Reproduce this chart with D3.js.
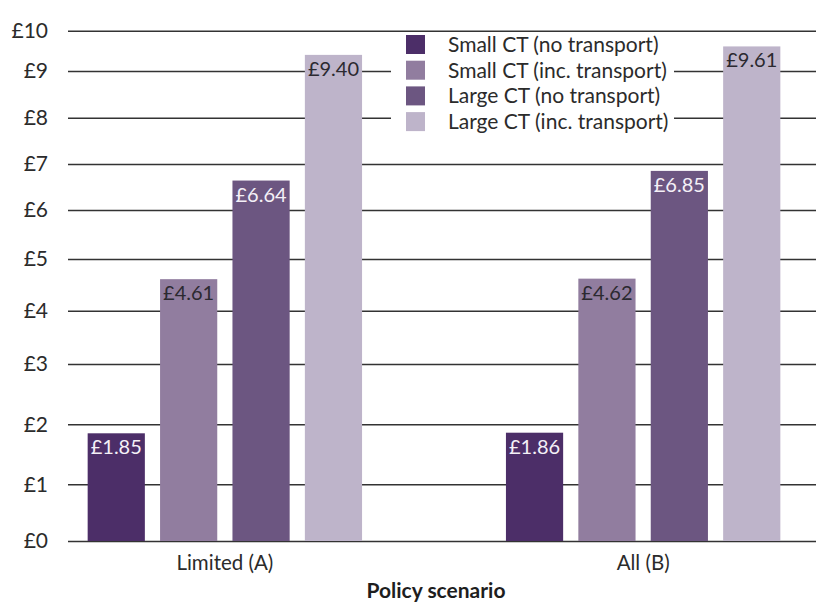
<!DOCTYPE html>
<html>
<head>
<meta charset="utf-8">
<script src="https://cdn.jsdelivr.net/npm/d3@7"></script>
<style>
  html, body { margin: 0; padding: 0; background: #fff; }
  svg { display: block; font-family: Lato, "Open Sans", sans-serif; }
</style>
</head>
<body>
<div id="chart"></div>
<script>
// ---- data ----
const categories = ["Limited (A)", "All (B)"];
const seriesNames = [
  "Small CT (no transport)",
  "Small CT (inc. transport)",
  "Large CT (no transport)",
  "Large CT (inc. transport)"
];
const smallNoTransport = [1.85, 1.86];
const smallIncTransport = [4.61, 4.62];
const largeNoTransport = [6.64, 6.85];
const largeIncTransport = [9.40, 9.61];
const yTickValues = [0, 1, 2, 3, 4, 5, 6, 7, 8, 9, 10];
const xAxisTitle = "Policy scenario";

const seriesValues = [smallNoTransport, smallIncTransport, largeNoTransport, largeIncTransport];
const colors = ["#4c2e68", "#917d9f", "#6c5681", "#beb4ca"];
const labelColors = ["#f4f0f7", "#2b2930", "#f4f0f7", "#2b2930"];

const W = 816, H = 602;
const svg = d3.select("#chart").append("svg").attr("width", W).attr("height", H);

// gridlines in the reference are unevenly spaced; polylinear scale reproduces them
const y = d3.scaleLinear()
  .domain(yTickValues)
  .range([541, 484.3, 424.3, 364, 310.7, 259, 210, 164, 117.7, 71, 30.7]);

const gridLeft = 68, gridRight = 816;
const x0 = d3.scaleBand().domain(categories).range([68, 800]).paddingInner(0.344).paddingOuter(0.047);
const x1 = d3.scaleBand().domain(seriesNames).range([0, x0.bandwidth()]).paddingInner(0.21).paddingOuter(0);

// y axis: gridlines + labels
const yAxis = d3.axisLeft(y).tickValues(yTickValues).tickSize(-(gridRight - gridLeft)).tickPadding(20)
  .tickFormat(d => "£" + d);
const gy = svg.append("g").attr("transform", `translate(${gridLeft},0)`).call(yAxis);
gy.select(".domain").remove();
gy.selectAll(".tick line").attr("stroke", "#333").attr("stroke-width", 1.4);
gy.selectAll(".tick text").attr("fill", "#2b2b2b").style("font-size", "21px")
  .style("font-family", "Lato, 'Open Sans', sans-serif");

// legend background (covers gridlines)
const legend = svg.append("g");
legend.append("rect").attr("x", 391).attr("y", 33).attr("width", 283).attr("height", 97).attr("fill", "#fff");
seriesNames.forEach((name, i) => {
  const ly = 35 + i * 25.7;
  legend.append("rect").attr("x", 406).attr("y", ly).attr("width", 19).attr("height", 19).attr("fill", colors[i]);
  legend.append("text").attr("x", 448).attr("y", ly + 17).text(name)
    .attr("fill", "#2b2b2b").style("font-size", "21px");
});

// bars
const groups = svg.append("g").selectAll("g").data(categories).join("g")
  .attr("transform", d => `translate(${x0(d)},0)`);

groups.each(function(cat, ci) {
  const g = d3.select(this);
  seriesNames.forEach((s, si) => {
    const v = seriesValues[si][ci];
    g.append("rect")
      .attr("x", x1(s)).attr("width", x1.bandwidth())
      .attr("y", y(v)).attr("height", y(0) - y(v))
      .attr("fill", colors[si]);
    g.append("text")
      .attr("x", x1(s) + x1.bandwidth() / 2).attr("y", y(v) + 21)
      .attr("text-anchor", "middle")
      .attr("fill", labelColors[si]).style("font-size", "20px")
      .text("£" + v.toFixed(2));
  });
});

// x axis labels
const xAxis = d3.axisBottom(x0).tickSize(0).tickPadding(14);
const gx = svg.append("g").attr("transform", `translate(0,${y(0)})`).call(xAxis);
gx.select(".domain").remove();
gx.selectAll(".tick text").attr("fill", "#2b2b2b").style("font-size", "20.5px")
  .style("font-family", "Lato, 'Open Sans', sans-serif");

svg.append("text").attr("x", 436).attr("y", 598)
  .attr("text-anchor", "middle").attr("fill", "#1e1e1e")
  .style("font-size", "21px").style("font-weight", "bold").text(xAxisTitle);
</script>
</body>
</html>
